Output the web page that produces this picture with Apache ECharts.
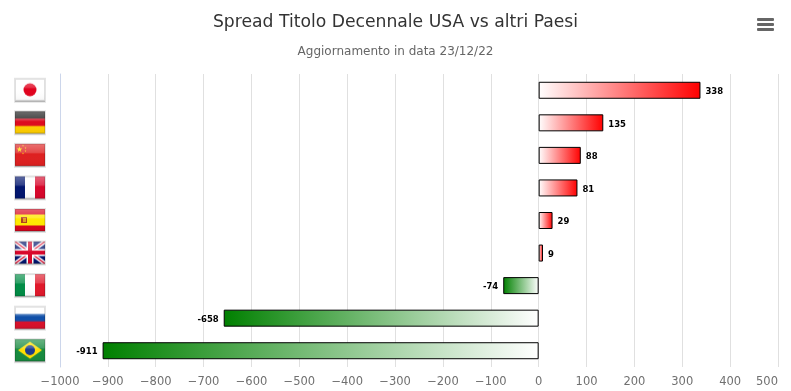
<!DOCTYPE html>
<html><head><meta charset="utf-8">
<style>html,body{margin:0;padding:0;background:#fff}#c{width:791px;height:391px}</style>
<script src="https://cdn.jsdelivr.net/npm/echarts@6/dist/echarts.min.js"></script>
</head><body><div id="c"></div>
<script>
const countries = ['jp','de','cn','fr','es','gb','it','ru','br'];
const spreads = [338,135,88,81,29,9,-74,-658,-911];
const titleText = 'Spread Titolo Decennale USA vs altri Paesi';
const subtitleText = 'Aggiornamento in data 23/12/22';

function hBands(g,cols){const h=22/cols.length;cols.forEach((c,i)=>{g.fillStyle=c;g.fillRect(0,i*h,30,h+.5);});}
function vBands(g,cols){const w=30/cols.length;cols.forEach((c,i)=>{g.fillStyle=c;g.fillRect(i*w,0,w+.5,22);});}
function star(g,x,y,r,c){g.fillStyle=c;g.beginPath();for(let i=0;i<10;i++){const a=-Math.PI/2+i*Math.PI/5,q=i%2?r*.42:r;g.lineTo(x+q*Math.cos(a),y+q*Math.sin(a));}g.closePath();g.fill();}
const painters = {
  jp(g){g.fillStyle='#fff';g.fillRect(0,0,30,22);g.fillStyle='#e0001c';g.beginPath();g.arc(15,11,6.5,0,7);g.fill();},
  de(g){hBands(g,['#1a1a1a','#dd0a1e','#ffce00']);},
  cn(g){g.fillStyle='#de2020';g.fillRect(0,0,30,22);star(g,4.5,5.5,3,'#ffde00');[[8,1.8],[10.5,4],[10.5,7],[8,9.5]].forEach(p=>star(g,p[0],p[1],1,'#ffde00'));},
  fr(g){vBands(g,['#00146e','#fff','#d8062a']);},
  es(g){hBands(g,['#d8041c','#ffe800','#ffe800','#d8041c']);g.fillStyle='#b04020';g.fillRect(6,8,6,6);g.fillStyle='#e0a020';g.fillRect(8,9,3,4);},
  gb(g){g.fillStyle='#00146e';g.fillRect(0,0,30,22);g.strokeStyle='#fff';g.lineWidth=4;g.beginPath();g.moveTo(0,0);g.lineTo(30,22);g.moveTo(30,0);g.lineTo(0,22);g.stroke();g.strokeStyle='#d8062a';g.lineWidth=1.3;g.stroke();g.fillStyle='#fff';g.fillRect(0,7.5,30,7);g.fillRect(11.5,0,7,22);g.fillStyle='#d8062a';g.fillRect(0,9,30,4);g.fillRect(13,0,4,22);},
  it(g){vBands(g,['#008c45','#fff','#e0182a']);},
  ru(g){hBands(g,['#fff','#0f4fa8','#d8102a']);},
  br(g){g.fillStyle='#168a3e';g.fillRect(0,0,30,22);g.fillStyle='#ffdf00';g.beginPath();g.moveTo(15,2.5);g.lineTo(27,11);g.lineTo(15,19.5);g.lineTo(3,11);g.closePath();g.fill();g.fillStyle='#1a3a8c';g.beginPath();g.arc(15,11,5,0,7);g.fill();}
};
function flagCanvas(code){
  const c=document.createElement('canvas');c.width=32;c.height=25;
  const g=c.getContext('2d');
  g.fillStyle='#e4e4e4';g.fillRect(0,0,32,25);
  g.fillStyle='#a8a8a8';g.fillRect(1,23,30,1);
  g.save();g.translate(1,1);
  g.beginPath();g.rect(0,0,30,22);g.clip();
  painters[code](g);
  const s=g.createLinearGradient(0,0,0,22);
  s.addColorStop(0,'rgba(255,255,255,.36)');s.addColorStop(.42,'rgba(255,255,255,.18)');s.addColorStop(.44,'rgba(255,255,255,0)');s.addColorStop(1,'rgba(0,0,0,.04)');
  g.fillStyle=s;g.fillRect(0,0,30,22);
  g.strokeStyle='rgba(0,0,0,.12)';g.strokeRect(.5,.5,29,21);
  g.restore();
  return c;
}
const rich={};
countries.forEach(k=>{rich[k]={width:32,height:25,backgroundColor:{image:flagCanvas(k)}};});

const grad=(stops)=>({type:'linear',x:0,y:0,x2:1,y2:0,colorStops:stops});
const barData=spreads.map(v=>({
  value:v,
  itemStyle:{color:v>=0
    ? grad([{offset:0,color:'#ffffff'},{offset:1,color:'#ff0000'}])
    : grad([{offset:0,color:'#008000'},{offset:1,color:'#ffffff'}])},
  label:{position:v>=0?'right':'left'}
}));
const chart=echarts.init(document.getElementById('c'),null,{renderer:'canvas'});
const FONT='"DejaVu Sans", Verdana, sans-serif';
chart.setOption({
  animation:false,
  title:{text:titleText,subtext:subtitleText,left:'center',top:9,itemGap:15,
    textStyle:{fontFamily:FONT,fontSize:17.2,fontWeight:'normal',color:'#333333'},
    subtextStyle:{fontFamily:FONT,fontSize:12,color:'#666666'}},
  grid:{left:60,right:13,top:74,bottom:24,containLabel:false},
  xAxis:{type:'value',min:-1000,max:500,interval:100,
    axisLine:{show:false},axisTick:{show:false},
    splitLine:{show:true,lineStyle:{color:'#e0e0e0',width:1}},
    axisLabel:{color:'#707070',fontFamily:FONT,fontSize:11.5,margin:9,alignMaxLabel:'right',
      formatter:v=>String(v).replace('-','\u2212')}},
  yAxis:{type:'category',inverse:true,data:countries,
    axisLine:{show:true,lineStyle:{color:'#ccd6eb'},onZero:false},axisTick:{show:false},splitLine:{show:false},
    axisLabel:{margin:14,formatter:v=>'{'+v+'|}',rich:rich}},
  series:[{type:'bar',data:barData,barWidth:17,
    itemStyle:{borderColor:'#000000',borderWidth:1},
    label:{show:true,distance:5,offset:[0,1.5],color:'#000000',fontFamily:FONT,fontSize:8.5,fontWeight:'bold',
      textBorderColor:'#ffffff',textBorderWidth:1.5}}],
  graphic:[{type:'group',right:17,top:18,children:[
    {type:'rect',shape:{x:0,y:0,width:17,height:3,r:1},style:{fill:'#666666'}},
    {type:'rect',shape:{x:0,y:5,width:17,height:3,r:1},style:{fill:'#666666'}},
    {type:'rect',shape:{x:0,y:10,width:17,height:3,r:1},style:{fill:'#666666'}}
  ]}]
});
</script></body></html>
